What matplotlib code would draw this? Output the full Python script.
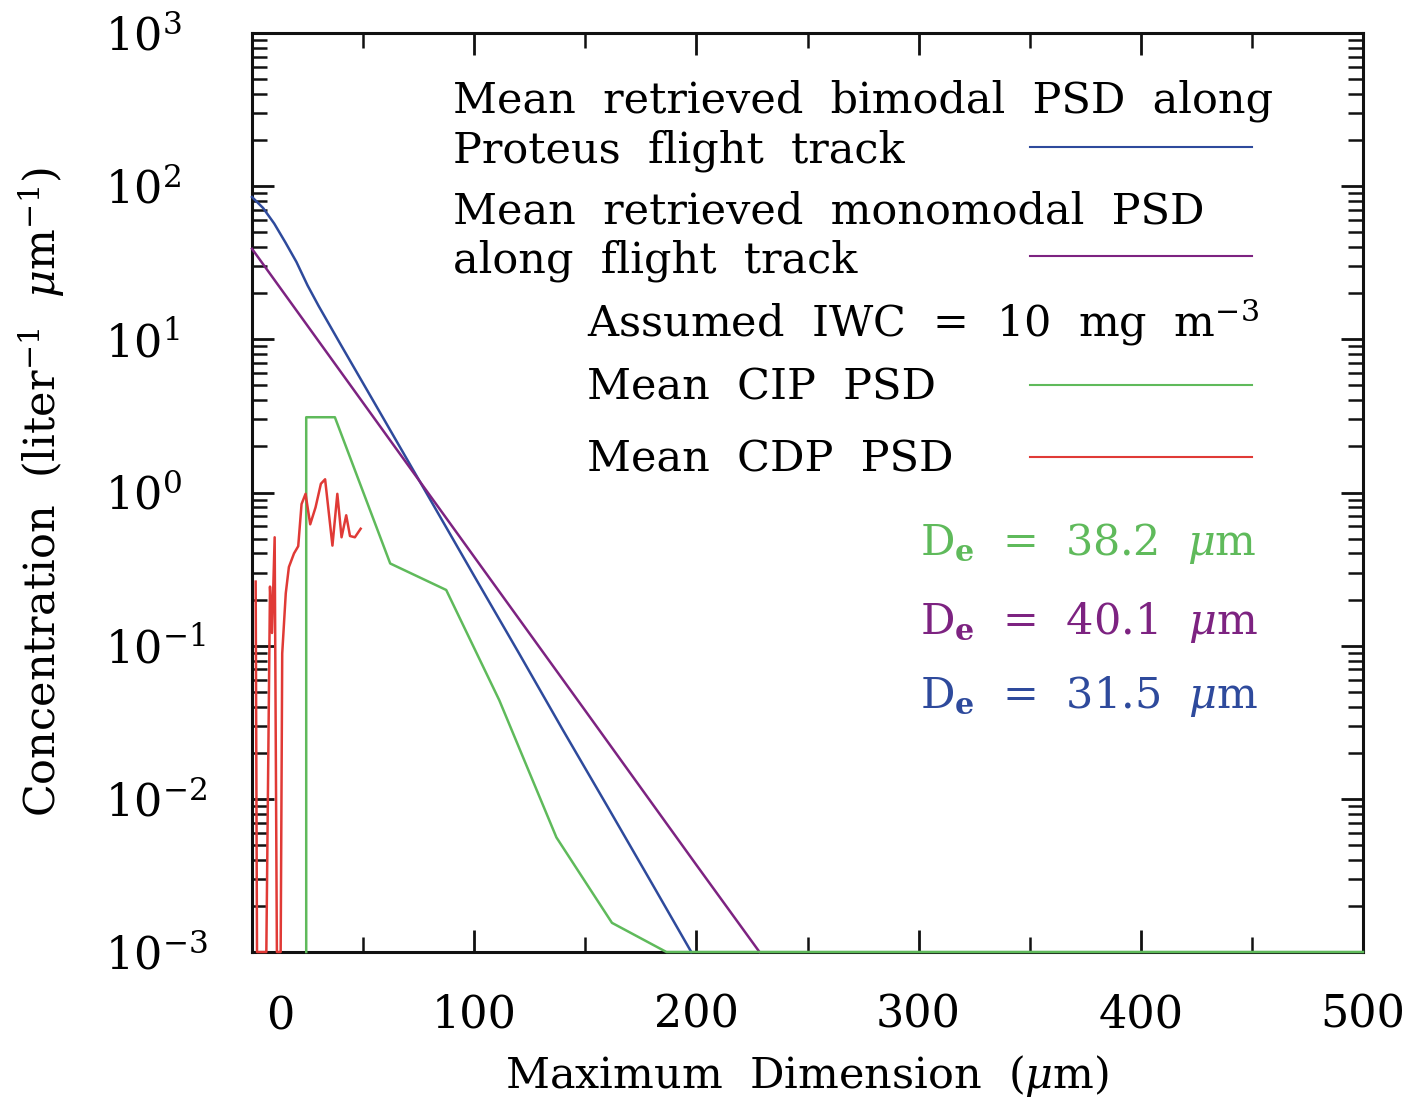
import matplotlib
matplotlib.use('Agg')
import matplotlib.pyplot as plt
from matplotlib.ticker import MultipleLocator, LogLocator, NullFormatter
from matplotlib.lines import Line2D

# ---------------- data ----------------
bimodal_x = [0, 5, 10, 15, 20, 25, 30, 40, 60, 80, 100, 120, 140, 160, 180, 197.7]
bimodal_y = [85, 72, 57, 43, 32, 22.5, 16.5, 9.2, 2.9, 0.91, 0.285, 0.09, 0.028, 0.0089, 0.0028, 0.001]

mono_x = [0, 50, 100, 150, 200, 228.4]
mono_y = [39, 3.85, 0.38, 0.0376, 0.0037, 0.001]

cip_x = [24.4, 24.4, 37.3, 62.2, 87.4, 111.3, 137.0, 162.0, 186.5, 500]
cip_y = [0.001, 3.1, 3.1, 0.344, 0.231, 0.044, 0.0056, 0.00155, 0.001, 0.001]

cdp_x = [1.65, 2.25, 6.45, 8.1, 9.0, 10.2, 11.2, 12.9, 13.6, 15.2, 16.6, 18.9, 20.8,
         22.3, 24.1, 26.2, 28.6, 31.0, 32.9, 36.2, 38.4, 40.3, 42.4, 44.1, 46.3, 48.9]
cdp_y = [0.262, 0.001, 0.001, 0.243, 0.121, 0.51, 0.001, 0.001, 0.089, 0.22, 0.326, 0.40, 0.446,
         0.84, 0.98, 0.62, 0.80, 1.14, 1.22, 0.45, 0.98, 0.51, 0.71, 0.52, 0.51, 0.58]

xtick_vals = [0, 100, 200, 300, 400, 500]
xtick_labels = ['', '100', '200', '300', '400', '500']
ytick_vals = [1e-3, 1e-2, 1e-1, 1e0, 1e1, 1e2, 1e3]
ytick_labels = [r'$10^{-3}$', r'$10^{-2}$', r'$10^{-1}$', r'$10^{0}$',
                r'$10^{1}$', r'$10^{2}$', r'$10^{3}$']

legend_lines = ['Mean  retrieved  bimodal  PSD  along', 'Proteus  flight  track',
                'Mean  retrieved  monomodal  PSD', 'along  flight  track']
iwc_text = r'Assumed  IWC  =  10  mg  m$^{-3}$'
cip_label = 'Mean  CIP  PSD'
cdp_label = 'Mean  CDP  PSD'
de_labels = [r'D$_{\mathbf{e}}$  =  38.2  $\mu$m', r'D$_{\mathbf{e}}$  =  40.1  $\mu$m',
             r'D$_{\mathbf{e}}$  =  31.5  $\mu$m']
xlabel = r'Maximum  Dimension  ($\mu$m)'
ylabel = r'Concentration  (liter$^{-1}$  $\mu$m$^{-1}$)'

# ---------------- style ----------------
C_BLUE = '#2e4a9c'
C_PURPLE = '#7d2381'
C_GREEN = '#5fba5b'
C_RED = '#e03a36'

plt.rcParams['font.family'] = ['DejaVu Serif']
plt.rcParams['mathtext.fontset'] = 'dejavuserif'

W, H = 1418, 1097
fig = plt.figure(figsize=(W / 100, H / 100), dpi=100)
fig.patch.set_facecolor('white')

def fx(x):
    return x / W

def fy(y):
    return 1 - y / H

ax = fig.add_axes([fx(252), fy(952), (1363 - 252) / W, (952 - 33) / H])

lw = 1.8
ax.plot(bimodal_x, bimodal_y, color=C_BLUE, lw=lw, zorder=3, clip_on=False)
ax.plot(mono_x, mono_y, color=C_PURPLE, lw=lw, zorder=3, clip_on=False)
ax.plot(cip_x, cip_y, color=C_GREEN, lw=lw, zorder=4, clip_on=False)
ax.plot(cdp_x, cdp_y, color=C_RED, lw=lw, zorder=4, clip_on=False)

ax.set_yscale('log')
ax.set_xlim(0, 500)
ax.set_ylim(1e-3, 1e3)

ax.set_xticks(xtick_vals)
ax.set_xticklabels(xtick_labels)
ax.xaxis.set_minor_locator(MultipleLocator(50))
ax.set_yticks(ytick_vals)
ax.set_yticklabels(ytick_labels)
ax.yaxis.set_minor_locator(LogLocator(base=10, subs=range(2, 10), numticks=20))
ax.yaxis.set_minor_formatter(NullFormatter())

for s in ax.spines.values():
    s.set_linewidth(2.2)
    s.set_color('#111111')

ax.tick_params(which='both', direction='in', top=True, right=True, color='#111111')
ax.tick_params(which='major', length=15.5, width=2.0)
ax.tick_params(which='minor', length=10.5, width=1.8)
ax.tick_params(axis='y', which='major', labelsize=32, pad=106)
ax.tick_params(axis='x', which='major', labelsize=32, pad=30)
for t in ax.get_yticklabels():
    t.set_horizontalalignment('left')

# "0" tick label shifted right as in the reference
fig.text(fx(280), fy(1030), '0', fontsize=32, ha='center', va='baseline')

# axis labels
fig.text(fx(807), fy(1088), xlabel, fontsize=31, ha='center', va='baseline')
fig.text(fx(42), fy(492), ylabel, fontsize=31, ha='center', va='center', rotation=90)

# legend block
ts = 31
fig.text(fx(453), fy(113), legend_lines[0], fontsize=ts, va='baseline')
fig.text(fx(453), fy(162), legend_lines[1], fontsize=ts, va='baseline')
fig.text(fx(453), fy(224), legend_lines[2], fontsize=ts, va='baseline')
fig.text(fx(453), fy(272), legend_lines[3], fontsize=ts, va='baseline')
fig.text(fx(587), fy(337), iwc_text, fontsize=ts, va='baseline')
fig.text(fx(587), fy(400), cip_label, fontsize=ts, va='baseline')
fig.text(fx(587), fy(471), cdp_label, fontsize=ts, va='baseline')

for ypx, col in [(147, C_BLUE), (256, C_PURPLE), (385, C_GREEN), (457, C_RED)]:
    fig.add_artist(Line2D([fx(1030), fx(1252)], [fy(ypx), fy(ypx)], color=col, lw=1.5,
                          transform=fig.transFigure))

for lab, ypx, col in zip(de_labels, [555, 634, 708], [C_GREEN, C_PURPLE, C_BLUE]):
    fig.text(fx(920), fy(ypx), lab, fontsize=ts, va='baseline', color=col)

fig.savefig('out.png', dpi=100, facecolor='white')
